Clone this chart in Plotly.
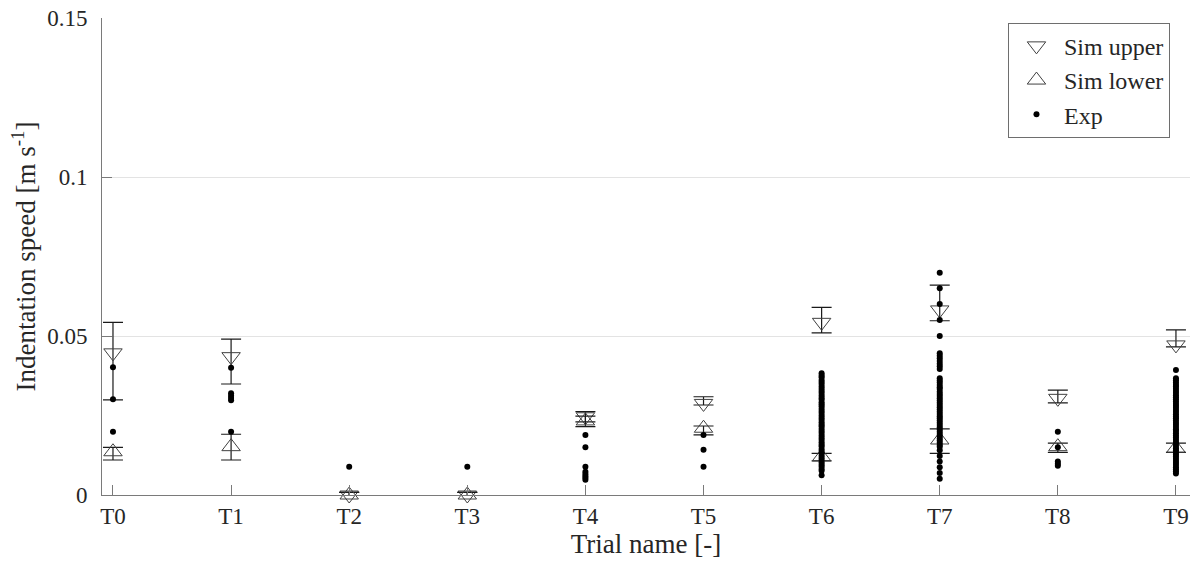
import plotly.graph_objects as go

trials = ["T0", "T1", "T2", "T3", "T4", "T5", "T6", "T7", "T8", "T9"]

sim_upper = [0.0447, 0.0435, 0.0, 0.0, 0.0246, 0.0288, 0.0543, 0.0582, 0.0304, 0.0472]
sim_upper_plus = [0.0096, 0.0055, 0.0008, 0.0008, 0.0016, 0.0021, 0.0047, 0.0078, 0.0026, 0.0047]
sim_upper_minus = [0.0148, 0.0086, 0.0008, 0.0008, 0.0016, 0.0005, 0.0033, 0.0034, 0.0014, 0.0006]

sim_lower = [0.0136, 0.0152, 0.0, 0.0, 0.0233, 0.0210, 0.0120, 0.0173, 0.0152, 0.0147]
sim_lower_plus = [0.0014, 0.0039, 0.0008, 0.0008, 0.0015, 0.0007, 0.0011, 0.0035, 0.0011, 0.0016]
sim_lower_minus = [0.0026, 0.0042, 0.0008, 0.0008, 0.0018, 0.0021, 0.0013, 0.0042, 0.0018, 0.0013]

exp_T0 = [0.0402, 0.0301, 0.0199]
exp_T1 = [0.0400, 0.0320, 0.0312, 0.0305, 0.0298, 0.0199]
exp_T2 = [0.0089]
exp_T3 = [0.0089]
exp_T4 = [0.0189, 0.0150, 0.0089, 0.0073, 0.0066, 0.0060, 0.0054, 0.0048]
exp_T5 = [0.0189, 0.0142, 0.0089]
exp_T6 = [0.0383, 0.0376, 0.0370, 0.0362, 0.0355, 0.0349, 0.0341, 0.0334, 0.0327,
          0.0321, 0.0313, 0.0306, 0.0300, 0.0292, 0.0285, 0.0279, 0.0271, 0.0264,
          0.0258, 0.0250, 0.0243, 0.0237, 0.0229, 0.0222, 0.0216, 0.0208, 0.0201,
          0.0195, 0.0187, 0.0180, 0.0174, 0.0166, 0.0159, 0.0153, 0.0145, 0.0138,
          0.0132, 0.0124, 0.0117, 0.0111, 0.0103, 0.0096, 0.0090, 0.0082, 0.0076,
          0.0062]
exp_T7 = [0.0699, 0.0650, 0.0601, 0.0550, 0.0500, 0.0446, 0.0438, 0.0430, 0.0421,
          0.0413, 0.0405, 0.0396, 0.0367, 0.0360, 0.0354, 0.0346, 0.0339, 0.0333,
          0.0325, 0.0318, 0.0311, 0.0304, 0.0297, 0.0290, 0.0283, 0.0276, 0.0269,
          0.0262, 0.0255, 0.0248, 0.0241, 0.0234, 0.0227, 0.0220, 0.0213, 0.0206,
          0.0199, 0.0192, 0.0185, 0.0178, 0.0171, 0.0164, 0.0157, 0.0152, 0.0141,
          0.0123, 0.0105, 0.0087, 0.0069, 0.0051]
exp_T8 = [0.0199, 0.0150, 0.0105, 0.0098, 0.0092]
exp_T9 = [0.0393, 0.0367, 0.0361, 0.0354, 0.0347, 0.0341, 0.0334, 0.0327, 0.0321,
          0.0314, 0.0307, 0.0301, 0.0294, 0.0287, 0.0281, 0.0274, 0.0267, 0.0261,
          0.0254, 0.0247, 0.0241, 0.0234, 0.0227, 0.0221, 0.0214, 0.0207, 0.0201,
          0.0194, 0.0187, 0.0181, 0.0174, 0.0167, 0.0161, 0.0154, 0.0147, 0.0141,
          0.0134, 0.0127, 0.0121, 0.0114, 0.0107, 0.0101, 0.0094, 0.0087, 0.0081,
          0.0075, 0.0068]

exp_all = [exp_T0, exp_T1, exp_T2, exp_T3, exp_T4, exp_T5, exp_T6, exp_T7, exp_T8, exp_T9]

y_ticks = [0, 0.05, 0.1, 0.15]
y_tick_labels = ["0", "0.05", "0.1", "0.15"]

exp_x, exp_y = [], []
for i, vals in enumerate(exp_all):
    exp_x += [i] * len(vals)
    exp_y += vals

xi = list(range(len(trials)))
FONT = "Liberation Serif, Times New Roman, serif"
TXT = "#262626"
EB = "#1a1a1a"
MK = "#404040"

fig = go.Figure()
fig.add_trace(go.Scatter(
    x=xi, y=sim_upper, mode="markers", name="Sim upper", cliponaxis=False,
    marker=dict(symbol="triangle-down-open", size=16, color=MK, line=dict(width=1, color=MK)),
    error_y=dict(type="data", symmetric=False, array=sim_upper_plus, arrayminus=sim_upper_minus,
                 color=EB, thickness=1.2, width=10),
))
fig.add_trace(go.Scatter(
    x=xi, y=sim_lower, mode="markers", name="Sim lower", cliponaxis=False,
    marker=dict(symbol="triangle-up-open", size=16, color=MK, line=dict(width=1, color=MK)),
    error_y=dict(type="data", symmetric=False, array=sim_lower_plus, arrayminus=sim_lower_minus,
                 color=EB, thickness=1.2, width=10),
))
fig.add_trace(go.Scatter(
    x=exp_x, y=exp_y, mode="markers", name="Exp", cliponaxis=False,
    marker=dict(symbol="circle", size=6, color="black"),
))

fig.update_layout(
    width=1195, height=564,
    margin=dict(l=102, r=5, t=18, b=69),
    paper_bgcolor="white", plot_bgcolor="white",
    font=dict(family=FONT, size=23, color=TXT),
    showlegend=True,
    legend=dict(
        x=0.9816, xanchor="right", y=0.99, yanchor="top",
        bgcolor="white", bordercolor="#6e6e6e", borderwidth=1,
        font=dict(family=FONT, size=24, color=TXT),
        itemsizing="trace", tracegroupgap=0, itemwidth=45,
    ),
    xaxis=dict(
        range=[-0.093, 9.119], tickmode="array", tickvals=xi, ticktext=trials,
        showgrid=False, zeroline=False, showline=True, linecolor="#7a7a7a", linewidth=1,
        ticks="inside", ticklen=10, tickcolor="#7a7a7a", automargin=False,
        ticklabeloverflow="allow",
        title=dict(text="Trial name [-]", font=dict(family=FONT, size=27, color=TXT), standoff=0),
        tickfont=dict(family=FONT, size=23, color=TXT),
    ),
    yaxis=dict(
        range=[0, 0.1500001], tickmode="array", tickvals=y_ticks, ticktext=y_tick_labels,
        showgrid=True, gridcolor="#e3e3e3", gridwidth=1, zeroline=False,
        showline=True, linecolor="#7a7a7a", linewidth=1,
        ticks="inside", ticklen=10, tickcolor="#7a7a7a", automargin=False,
        ticklabelstandoff=9, ticklabeloverflow="allow",
        title=dict(text="Indentation speed [m s<sup>-1</sup>]", font=dict(family=FONT, size=27, color=TXT), standoff=3),
        tickfont=dict(family=FONT, size=23, color=TXT),
    ),
)

fig.write_html("out.html", config={"displayModeBar": False},
               post_script="document.body.style.margin='0';")
